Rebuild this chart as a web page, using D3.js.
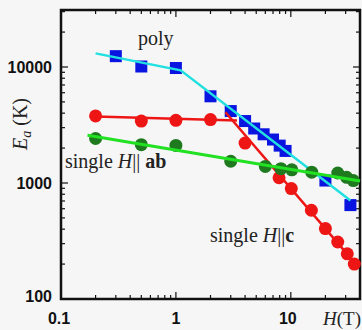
<!DOCTYPE html>
<html>
<head>
<meta charset="utf-8">
<script src="https://cdn.jsdelivr.net/npm/d3@7"></script>
<style>
  body { margin: 0; background: #f6f6f6; }
  svg { display: block; }
</style>
</head>
<body>
<div id="chart"></div>
<script>
// poly sample (blue squares) + fit lines
var polyH   = [0.3, 0.5, 1, 2, 3, 4, 4.8, 5.8, 7, 8, 9, 20, 33];
var polyE   = [12400, 10100, 9800, 5590, 4170, 3420, 2950, 2630, 2370, 2100, 1890, 1050, 645];
var polyFitH = [0.2, 1.1, 33];
var polyFitE = [13100, 9360, 706];

// single H || c (red circles)
var cH = [0.2, 0.5, 1, 2, 4, 7.9, 10.1, 15.1, 20, 25.6, 31, 35.7];
var cE = [3790, 3420, 3470, 3520, 2210, 1110, 896, 582, 405, 310, 245, 200];
var cFitLowH = [0.2, 3.4];
var cFitLowE = [3750, 3450];
var cFitHighH = [2.7, 36];
var cFitHighE = [4070, 205];

// single H || ab (green circles)
var abH = [0.2, 0.5, 1, 3, 6, 8.2, 10.2, 15.2, 25.6, 30.6, 35];
var abE = [2420, 2140, 2110, 1540, 1390, 1330, 1300, 1240, 1220, 1120, 1050];
var abFitH = [0.17, 40];
var abFitE = [2580, 1040];

var yTicks = [100, 1000, 10000];
var xTicks = [0.1, 1, 10];

var W = 362, H = 330;
var mL = 61, mR = 360, mT = 10, mB = 299;

var svg = d3.select('#chart').append('svg')
  .attr('width', W).attr('height', H);

svg.append('rect').attr('width', W).attr('height', H).attr('fill', '#f6f6f6');

var x = d3.scaleLog().domain([0.1, 40]).range([mL, mR]);
var y = d3.scaleLog().domain([100, 31000]).range([mB, mT]);

function zip(a, b){
  return a.map(function(v, i){ return [v, b[i]]; });
}

var line = d3.line()
  .x(function(d){ return x(d[0]); })
  .y(function(d){ return y(d[1]); });

// minor + major ticks, inside, all four sides
var xAll = x.ticks();
var yAll = y.ticks();
function isMajor(v){ return Math.abs(Math.log10(v) - Math.round(Math.log10(v))) < 1e-6; }

var tickG = svg.append('g').attr('stroke', '#111').attr('stroke-width', 1.2);
xAll.forEach(function(v){
  var len = isMajor(v) ? 7 : 4;
  var px = x(v);
  if (px < mL + 1 || px > mR - 1) return;
  tickG.append('line').attr('x1', px).attr('x2', px).attr('y1', mB).attr('y2', mB - len);
  tickG.append('line').attr('x1', px).attr('x2', px).attr('y1', mT).attr('y2', mT + len);
});
yAll.forEach(function(v){
  var len = isMajor(v) ? 7 : 4;
  var py = y(v);
  if (py > mB - 1 || py < mT + 1) return;
  tickG.append('line').attr('y1', py).attr('y2', py).attr('x1', mL).attr('x2', mL + len);
  tickG.append('line').attr('y1', py).attr('y2', py).attr('x1', mR).attr('x2', mR - len);
});

// frame
svg.append('rect')
  .attr('x', mL).attr('y', mT)
  .attr('width', mR - mL).attr('height', mB - mT)
  .attr('fill', 'none').attr('stroke', '#111').attr('stroke-width', 2.5);

// tick labels
svg.selectAll('.ylab').data(yTicks).enter().append('text')
  .attr('x', 52).attr('y', function(d){ return y(d) + 6 - (d === 100 ? 3 : 0); })
  .attr('text-anchor', 'end')
  .attr('font-family', 'Liberation Sans, Arial, sans-serif')
  .attr('font-weight', 'bold').attr('font-size', 16)
  .attr('fill', '#111')
  .text(function(d){ return d; });

svg.selectAll('.xlab').data(xTicks).enter().append('text')
  .attr('x', function(d){ return x(d) - (d === 0.1 ? 2 : 0) - (d === 10 ? 3 : 0); })
  .attr('y', 324)
  .attr('text-anchor', 'middle')
  .attr('font-family', 'Liberation Sans, Arial, sans-serif')
  .attr('font-weight', 'bold').attr('font-size', 16)
  .attr('fill', '#111')
  .text(function(d){ return d; });

// markers
svg.selectAll('.poly').data(zip(polyH, polyE)).enter().append('rect')
  .attr('x', function(d){ return x(d[0]) - 6; })
  .attr('y', function(d){ return y(d[1]) - 6; })
  .attr('width', 12).attr('height', 12)
  .attr('fill', '#0a14e0');

svg.append('path').datum(zip(polyFitH, polyFitE)).attr('d', line)
  .attr('fill', 'none').attr('stroke', '#22e0e0').attr('stroke-width', 2.5);

svg.selectAll('.cpt').data(zip(cH, cE)).enter().append('circle')
  .attr('cx', function(d){ return x(d[0]); })
  .attr('cy', function(d){ return y(d[1]); })
  .attr('r', 6.5).attr('fill', '#ee1515');

svg.append('path').datum(zip(cFitLowH, cFitLowE)).attr('d', line)
  .attr('fill', 'none').attr('stroke', '#ee1515').attr('stroke-width', 2.5);
svg.append('path').datum(zip(cFitHighH, cFitHighE)).attr('d', line)
  .attr('fill', 'none').attr('stroke', '#ee1515').attr('stroke-width', 2.5);

svg.selectAll('.abpt').data(zip(abH, abE)).enter().append('circle')
  .attr('cx', function(d){ return x(d[0]); })
  .attr('cy', function(d){ return y(d[1]); })
  .attr('r', 6.5).attr('fill', '#1f7a1f');

svg.append('path').datum(zip(abFitH, abFitE)).attr('d', line)
  .attr('fill', 'none').attr('stroke', '#22e022').attr('stroke-width', 3);

// annotations
var serif = 'Liberation Serif, Times New Roman, serif';
svg.append('text').attr('x', 138).attr('y', 45).attr('font-family', serif)
  .attr('font-size', 20).attr('fill', '#222').text('poly');

var t1 = svg.append('text').attr('x', 65).attr('y', 168).attr('font-family', serif)
  .attr('font-size', 20).attr('fill', '#222');
t1.append('tspan').text('single ');
t1.append('tspan').attr('font-style', 'italic').text('H');
t1.append('tspan').text('|| ');
t1.append('tspan').attr('font-weight', 'bold').text('ab');

var t2 = svg.append('text').attr('x', 210).attr('y', 242).attr('font-family', serif)
  .attr('font-size', 20).attr('fill', '#222');
t2.append('tspan').text('single ');
t2.append('tspan').attr('font-style', 'italic').text('H');
t2.append('tspan').text('||');
t2.append('tspan').attr('font-weight', 'bold').text('c');

var yt = svg.append('text')
  .attr('transform', 'translate(27,124) rotate(-90)')
  .attr('text-anchor', 'middle').attr('font-family', serif)
  .attr('font-size', 20).attr('fill', '#222');
yt.append('tspan').attr('font-style', 'italic').text('E');
yt.append('tspan').attr('font-style', 'italic').attr('font-size', 14).attr('dy', 4).text('a');
yt.append('tspan').attr('dy', -4).text(' (K)');

var xt = svg.append('text').attr('x', 361).attr('y', 325).attr('text-anchor', 'end')
  .attr('font-family', serif).attr('font-size', 19).attr('fill', '#222');
xt.append('tspan').attr('font-style', 'italic').text('H');
xt.append('tspan').text('(T)');
</script>
</body>
</html>
